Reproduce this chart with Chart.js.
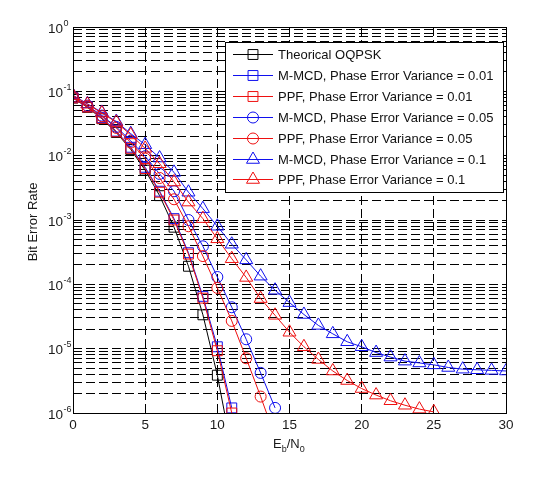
<!DOCTYPE html>
<html>
<head>
<meta charset="utf-8">
<script src="https://cdn.jsdelivr.net/npm/chart.js"></script>
<style>
body { margin: 0; background: #fff; }
#wrap { width: 542px; height: 478px; }
</style>
</head>
<body>
<div id="wrap"><canvas id="chart"></canvas></div>
<script>
// Eb/N0 in dB
const ebn0 = [0, 1, 2, 3, 4, 5, 6, 7, 8, 9, 10, 11, 12, 13, 14, 15, 16, 17, 18, 19, 20,
    21, 22, 23, 24, 25, 26, 27, 28, 29, 30];

const theory = [7.86e-2, 5.63e-2, 3.75e-2, 2.29e-2, 1.25e-2, 5.95e-3, 2.39e-3, 7.73e-4, 1.91e-4, 3.36e-5, 3.87e-6, 2.61e-7];
const mmcd001 = [8.0e-2, 5.8e-2, 3.9e-2, 2.4e-2, 1.35e-2, 6.6e-3, 2.8e-3, 1.05e-3, 3.1e-4, 6.5e-5, 1.07e-5, 1.2e-6];
const ppf001 = [7.9e-2, 5.7e-2, 3.8e-2, 2.35e-2, 1.3e-2, 6.3e-3, 2.7e-3, 1.0e-3, 2.95e-4, 6.1e-5, 9.3e-6, 1.0e-6];
const mmcd005 = [8.3e-2, 6.0e-2, 4.2e-2, 2.8e-2, 1.7e-2, 9.8e-3, 5.2e-3, 2.8e-3, 1.0e-3, 3.9e-4, 1.3e-4, 4.4e-5, 1.4e-5, 4.2e-6, 1.2e-6];
const ppf005 = [8.2e-2, 5.9e-2, 4.1e-2, 2.7e-2, 1.6e-2, 9.0e-3, 4.5e-3, 2.1e-3, 8.0e-4, 2.75e-4, 8.8e-5, 2.7e-5, 7.1e-6, 1.8e-6, 4.3e-7];
const mmcd01 = [8.7e-2, 6.4e-2, 4.7e-2, 3.4e-2, 2.2e-2, 1.48e-2, 9.2e-3, 5.5e-3, 2.7e-3, 1.5e-3, 8.0e-4,
    4.2e-4, 2.4e-4, 1.34e-4, 8.1e-5, 5.2e-5, 3.4e-5, 2.3e-5, 1.7e-5, 1.28e-5, 1.07e-5,
    8.7e-6, 7.4e-6, 6.4e-6, 6.0e-6, 5.6e-6, 5.1e-6, 4.8e-6, 4.7e-6, 4.6e-6, 4.5e-6];
const ppf01 = [8.6e-2, 6.3e-2, 4.6e-2, 3.3e-2, 2.1e-2, 1.3e-2, 7.5e-3, 3.9e-3, 1.9e-3, 1.05e-3, 5.1e-4,
    2.5e-4, 1.28e-4, 6.0e-5, 3.3e-5, 1.8e-5, 1.07e-5, 6.8e-6, 4.5e-6, 3.2e-6, 2.4e-6,
    1.9e-6, 1.55e-6, 1.32e-6, 1.15e-6, 1.04e-6];

const labels = ['Theorical OQPSK',
    'M-MCD, Phase Error Variance = 0.01',
    'PPF, Phase Error Variance = 0.01',
    'M-MCD, Phase Error Variance = 0.05',
    'PPF, Phase Error Variance = 0.05',
    'M-MCD, Phase Error Variance = 0.1',
    'PPF, Phase Error Variance = 0.1'];
const series = [theory, mmcd001, ppf001, mmcd005, ppf005, mmcd01, ppf01];
const colors = ['#000000', '#1010ee', '#ee1010', '#1010ee', '#ee1010', '#1010ee', '#ee1010'];
const markers = ['rect', 'rect', 'rect', 'circle', 'circle', 'triangle', 'triangle'];
const radii = [7, 7, 7, 5.5, 5.5, 7.5, 7.5];

const xTicks = [0, 5, 10, 15, 20, 25, 30];
const yExps = [0, -1, -2, -3, -4, -5, -6];

const FONT = '"Liberation Sans", Arial, sans-serif';

// minor + major grid values on the log axis
const yGrid = [];
for (let e = -6; e < 0; e++) {
    for (let k = 1; k < 10; k++) yGrid.push(k * Math.pow(10, e));
}
yGrid.push(1);

function drawMarker(ctx, style, r, x, y) {
    ctx.beginPath();
    if (style === 'rect') {
        const s = Math.SQRT1_2 * r;
        ctx.rect(x - s, y - s, 2 * s, 2 * s);
    } else if (style === 'circle') {
        ctx.arc(x, y, r, 0, Math.PI * 2);
    } else {
        for (let j = 0; j < 3; j++) {
            const a = j * 2 * Math.PI / 3;
            const px = x + Math.sin(a) * r, py = y - Math.cos(a) * r;
            if (j === 0) ctx.moveTo(px, py); else ctx.lineTo(px, py);
        }
        ctx.closePath();
    }
    ctx.stroke();
}

const decor = {
    id: 'decor',
    afterDraw(chart) {
        const ctx = chart.ctx;
        const a = chart.chartArea;
        const ys = chart.scales.y;
        ctx.save();
        // axes box
        ctx.strokeStyle = '#000';
        ctx.lineWidth = 1;
        ctx.setLineDash([]);
        ctx.strokeRect(Math.round(a.left) + 0.5, Math.round(a.top) + 0.5,
            Math.round(a.right - a.left), Math.round(a.bottom - a.top));

        // y tick labels 10^n
        ctx.fillStyle = '#1a1a1a';
        ctx.textBaseline = 'alphabetic';
        ctx.textAlign = 'left';
        yExps.forEach(e => {
            const py = ys.getPixelForValue(Math.pow(10, e));
            ctx.font = '13.5px ' + FONT;
            ctx.fillText('10', 48, py + 5.5);
            ctx.font = '9px ' + FONT;
            ctx.fillText(String(e), 63.5, py - 1.5);
        });

        // x title Eb/N0
        ctx.font = '13px ' + FONT;
        let x = 273;
        const by = 448;
        ctx.fillText('E', x, by); x += ctx.measureText('E').width;
        ctx.font = '9px ' + FONT;
        ctx.fillText('b', x, by + 4); x += ctx.measureText('b').width;
        ctx.font = '13px ' + FONT;
        ctx.fillText('/N', x, by); x += ctx.measureText('/N').width;
        ctx.font = '9px ' + FONT;
        ctx.fillText('0', x, by + 4);

        // y title
        ctx.font = '13px ' + FONT;
        ctx.translate(33, 222);
        ctx.rotate(-Math.PI / 2);
        ctx.textAlign = 'center';
        ctx.textBaseline = 'middle';
        ctx.fillText('Bit Error Rate', 0, 0);
        ctx.restore();

        // legend
        ctx.save();
        ctx.fillStyle = '#fff';
        ctx.fillRect(225, 42, 278, 150);
        ctx.strokeStyle = '#000';
        ctx.lineWidth = 1;
        ctx.strokeRect(225.5, 42.5, 278, 150);
        ctx.font = '13px ' + FONT;
        ctx.textBaseline = 'middle';
        labels.forEach((lab, i) => {
            const ly = Math.round(54 + i * 20.9) + 0.5;
            ctx.strokeStyle = colors[i];
            ctx.beginPath();
            ctx.moveTo(233, ly);
            ctx.lineTo(273, ly);
            ctx.stroke();
            drawMarker(ctx, markers[i], radii[i], 253, ly);
            ctx.fillStyle = '#111';
            ctx.fillText(lab, 278, ly + 1);
        });
        ctx.restore();
    }
};

new Chart(document.getElementById('chart'), {
    type: 'line',
    data: {
        datasets: series.map((vals, i) => ({
            label: labels[i],
            data: vals.map((v, k) => ({ x: ebn0[k], y: v })),
            borderColor: colors[i],
            backgroundColor: 'rgba(0,0,0,0)',
            borderWidth: 1,
            pointStyle: markers[i],
            pointRadius: radii[i],
            pointBorderWidth: 1,
            pointBorderColor: colors[i],
            pointBackgroundColor: 'rgba(0,0,0,0)',
            tension: 0,
            order: -i
        }))
    },
    options: {
        responsive: true,
        maintainAspectRatio: false,
        animation: false,
        events: [],
        layout: { padding: { left: 0, right: 36, top: 27, bottom: 0 } },
        plugins: { legend: { display: false }, tooltip: { enabled: false } },
        scales: {
            x: {
                type: 'linear',
                min: 0,
                max: 30,
                afterBuildTicks(s) { s.ticks = xTicks.map(v => ({ value: v })); },
                afterFit(s) { s.height = 65; },
                ticks: { font: { family: FONT, size: 13.5 }, color: '#1a1a1a', padding: 4, maxRotation: 0 },
                grid: { color: '#000', lineWidth: 1, drawTicks: false },
                border: { display: false, dash: [9, 4] }
            },
            y: {
                type: 'logarithmic',
                min: 1e-6,
                max: 1,
                afterBuildTicks(s) { s.ticks = yGrid.map(v => ({ value: v })); },
                afterFit(s) { s.width = 73; },
                ticks: { display: false },
                grid: { color: '#000', lineWidth: 1, drawTicks: false },
                border: { display: false, dash: [9, 4] }
            }
        }
    },
    plugins: [decor]
});
</script>
</body>
</html>
